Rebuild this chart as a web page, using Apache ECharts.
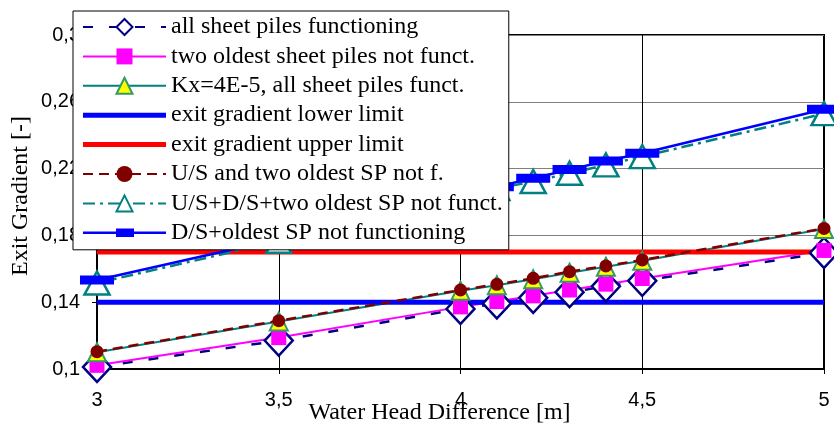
<!DOCTYPE html>
<html>
<head>
<meta charset="utf-8">
<script src="https://cdn.jsdelivr.net/npm/echarts@6/dist/echarts.min.js"></script>
<style>
  html, body { margin: 0; padding: 0; background: #fff; }
  #chart { width: 834px; height: 429px; }
</style>
</head>
<body>
<div id="chart"></div>
<script>
// water head difference [m]
const headDiff = [3, 3.5, 4, 4.1, 4.2, 4.3, 4.4, 4.5, 5]
// exit gradient [-] per scenario
const allFunctioning = [0.1012, 0.1170, 0.1360, 0.1392, 0.1426, 0.1460, 0.1495, 0.1528, 0.1695]
const twoOldestNotFunct = [0.1022, 0.1188, 0.1372, 0.1404, 0.1438, 0.1473, 0.1508, 0.1542, 0.1710]
const kxAllFunct = [0.1100, 0.1285, 0.1468, 0.1502, 0.1538, 0.1577, 0.1612, 0.1648, 0.1838]
const usTwoOldest = [0.1104, 0.1289, 0.1473, 0.1507, 0.1543, 0.1583, 0.1617, 0.1653, 0.1842]
const usDsTwoOldest = [0.1515, 0.1765, 0.2025, 0.2080, 0.2123, 0.2172, 0.2222, 0.2272, 0.2529]
const dsOldest = [0.1533, 0.1778, 0.2040, 0.2092, 0.2142, 0.2194, 0.2246, 0.2292, 0.2555]
const lowerLimit = 0.14
const upperLimit = 0.17
const yTicks = [0.1, 0.14, 0.18, 0.22, 0.26, 0.3]

const pairs = arr => headDiff.map((x, i) => [x, arr[i]])
const flat = v => [[headDiff[0], v], [headDiff[headDiff.length - 1], v]]
const comma = v => String(+(+v).toFixed(2)).replace('.', ',')

const names = [
  'all sheet piles functioning',
  'two oldest sheet piles not funct.',
  'Kx=4E-5, all sheet piles funct.',
  'exit gradient lower limit',
  'exit gradient upper limit',
  'U/S and two oldest SP not f.',
  'U/S+D/S+two oldest SP not funct.',
  'D/S+oldest SP not functioning'
]

// legend icons for the plain thick lines and the bar-marker series
const thickLine = 'path://M0,0H83V5H0Z'
const barOnLine = 'path://M0,3H83V5.5H0Z M33,0H51V8.5H33Z'

const chart = echarts.init(document.getElementById('chart'))
chart.setOption({
  animation: false,
  backgroundColor: '#ffffff',
  grid: {
    left: 97,
    right: 10,
    top: 35,
    bottom: 60,
    outerBoundsMode: 'none',
    containLabel: false,
    show: true,
    backgroundColor: '#ffffff',
    borderColor: '#000000',
    borderWidth: 2
  },
  legend: {
    orient: 'vertical',
    left: 73,
    top: 11,
    padding: [4, 6, 5, 9],
    itemWidth: 83,
    itemHeight: 20,
    itemGap: 5.4,
    backgroundColor: '#ffffff',
    borderColor: '#000000',
    borderWidth: 1,
    selectedMode: false,
    textStyle: {
      fontFamily: 'Liberation Serif',
      fontSize: 24,
      lineHeight: 24,
      color: '#000000'
    },
    data: names.map((n, i) => {
      if (i === 3 || i === 4) return { name: n, icon: thickLine }
      if (i === 7) return { name: n, icon: barOnLine }
      return { name: n }
    })
  },
  xAxis: {
    type: 'value',
    min: 3,
    max: 5,
    interval: 0.5,
    name: 'Water Head Difference [m]',
    nameLocation: 'middle',
    nameGap: 32,
    nameMoveOverlap: false,
    nameTextStyle: {
      fontFamily: 'Liberation Serif',
      fontSize: 24,
      color: '#000000',
      padding: [0, 42, 0, 0]
    },
    axisLine: { lineStyle: { color: '#000000', width: 2 } },
    axisTick: { show: true, inside: false, length: 5, lineStyle: { color: '#000000' } },
    axisLabel: {
      margin: 21,
      fontFamily: 'Liberation Sans',
      fontSize: 20,
      color: '#000000',
      formatter: comma
    },
    splitLine: { show: true, lineStyle: { color: '#000000', width: 1 } }
  },
  yAxis: {
    type: 'value',
    min: yTicks[0],
    max: yTicks[yTicks.length - 1],
    interval: 0.04,
    name: 'Exit Gradient [-]',
    nameLocation: 'middle',
    nameGap: 64,
    nameMoveOverlap: false,
    nameTextStyle: {
      fontFamily: 'Liberation Serif',
      fontSize: 24,
      color: '#000000',
      padding: [0, 0, 0, 12]
    },
    axisLine: { show: true, lineStyle: { color: '#000000', width: 2 } },
    axisTick: { show: true, inside: false, length: 5, lineStyle: { color: '#000000' } },
    axisLabel: {
      margin: 17,
      fontFamily: 'Liberation Sans',
      fontSize: 20,
      color: '#000000',
      formatter: comma
    },
    splitLine: { show: true, lineStyle: { color: '#808080', width: 1 } }
  },
  series: [
    {
      name: names[0],
      type: 'line',
      data: pairs(allFunctioning),
      symbol: 'diamond',
      symbolSize: [28, 30],
      lineStyle: { color: '#000080', width: 2.5, type: [10, 16] },
      itemStyle: { color: '#ffffff', borderColor: '#000080', borderWidth: 2.5 }
    },
    {
      name: names[1],
      type: 'line',
      data: pairs(twoOldestNotFunct),
      symbol: 'rect',
      symbolSize: 15,
      lineStyle: { color: '#ff00ff', width: 2 },
      itemStyle: { color: '#ff00ff', borderWidth: 0 }
    },
    {
      name: names[2],
      type: 'line',
      data: pairs(kxAllFunct),
      symbol: 'triangle',
      symbolSize: 18,
      lineStyle: { color: '#008080', width: 2 },
      itemStyle: { color: '#ffff00', borderColor: '#339966', borderWidth: 2 }
    },
    {
      name: names[3],
      type: 'line',
      data: flat(lowerLimit),
      symbol: 'none',
      lineStyle: { color: '#0000ff', width: 5 },
      itemStyle: { color: '#0000ff' }
    },
    {
      name: names[4],
      type: 'line',
      data: flat(upperLimit),
      symbol: 'none',
      lineStyle: { color: '#ff0000', width: 5 },
      itemStyle: { color: '#ff0000' }
    },
    {
      name: names[5],
      type: 'line',
      data: pairs(usTwoOldest),
      symbol: 'circle',
      symbolSize: 13,
      lineStyle: { color: '#800000', width: 2.5, type: [10, 6] },
      itemStyle: { color: '#800000', borderWidth: 0 }
    },
    {
      name: names[6],
      type: 'line',
      data: pairs(usDsTwoOldest),
      symbol: 'triangle',
      symbolSize: [25, 23],
      lineStyle: { color: '#008080', width: 2.5, type: [12, 5, 3, 5] },
      itemStyle: { color: '#ffffff', borderColor: '#008080', borderWidth: 2.5 }
    },
    {
      name: names[7],
      type: 'line',
      data: pairs(dsOldest),
      symbol: 'rect',
      symbolSize: [34, 9],
      lineStyle: { color: '#0000ff', width: 2.5 },
      itemStyle: { color: '#0000ff', borderWidth: 0 }
    }
  ]
})
</script>
</body>
</html>
